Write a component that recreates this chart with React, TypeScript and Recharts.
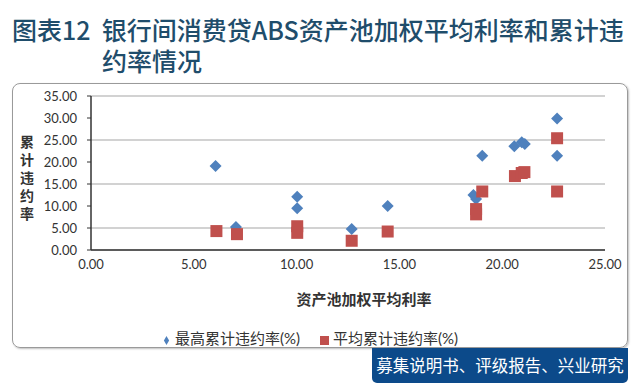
import { ScatterChart, Scatter, XAxis, YAxis, CartesianGrid, Legend } from 'recharts'

const maxX = [6.06, 7.05, 10.03, 10.03, 12.68, 14.43, 18.6, 18.73, 19.03, 20.59, 20.95, 21.1, 22.67, 22.67]
const maxY = [19.1, 5.2, 12.1, 9.5, 4.8, 10.0, 12.5, 11.6, 21.4, 23.6, 24.5, 24.1, 29.9, 21.4]
const avgX = [6.1, 7.1, 10.03, 10.03, 12.68, 14.43, 18.73, 18.73, 19.03, 20.62, 20.95, 21.08, 22.67, 22.67]
const avgY = [4.3, 3.6, 5.4, 3.9, 2.1, 4.2, 9.3, 8.1, 13.3, 16.8, 17.5, 17.7, 25.4, 13.3]

const seriesNames = ['最高累计违约率(%)', '平均累计违约率(%)']
const xTicks = [0, 5, 10, 15, 20, 25]
const yTicks = [0, 5, 10, 15, 20, 25, 30, 35]

const maxData = maxX.map((x, i) => ({ x, y: maxY[i] }))
const avgData = avgX.map((x, i) => ({ x, y: avgY[i] }))

const FONT = "Lato, 'Noto Sans CJK SC', sans-serif"

const Diamond = (props: any) => {
  const { cx, cy } = props
  const r = 6
  return <polygon points={`${cx},${cy - r} ${cx + r},${cy} ${cx},${cy + r} ${cx - r},${cy}`} fill="#4F81BD" />
}

const Square = (props: any) => {
  const { cx, cy } = props
  return <rect x={cx - 6} y={cy - 6} width={12} height={12} fill="#C0504D" />
}

const YTitle = () => {
  const chars = '累计违约率'.split('')
  return (
    <text x={27} y={142} textAnchor="middle" fontSize={14} fill="#333" fontFamily="'Noto Sans CJK SC'" fontWeight={700}>
      {chars.map((c, i) => (
        <tspan key={i} x={27} dy={i === 0 ? 5 : 18}>{c}</tspan>
      ))}
    </text>
  )
}

export default function App() {
  return (
    <div style={{ position: 'absolute', left: 0, top: 0, width: 640, height: 392, background: '#fff', fontFamily: FONT, overflow: 'hidden' }}>
      <div style={{ position: 'absolute', left: 12, top: 14, color: '#1f4d6b', fontSize: 25, lineHeight: '31px', fontFamily: "'Noto Sans CJK SC'", fontWeight: 500, whiteSpace: 'nowrap' }}>
        <div>图表12&nbsp;&nbsp;银行间消费贷ABS资产池加权平均利率和累计违</div>
        <div style={{ paddingLeft: 90 }}>约率情况</div>
      </div>
      <div style={{ position: 'absolute', left: 12, top: 83, width: 614, height: 263, border: '1px solid #9a9a9a', borderRadius: 8, boxShadow: '1px 1px 2px rgba(0,0,0,0.25)' }} />
      <div style={{ position: 'absolute', left: 0, top: 0 }}>
        <ScatterChart width={640} height={392} margin={{ top: 96, right: 35, bottom: 112, left: 41 }}>
          <CartesianGrid vertical={false} stroke="#a6a6a6" strokeWidth={1.2} />
          <XAxis
            type="number"
            dataKey="x"
            domain={[0, 25]}
            ticks={xTicks}
            tickFormatter={(v: number) => v.toFixed(2)}
            height={30}
            axisLine={{ stroke: '#333', strokeWidth: 1.5 }}
            tickLine={false}
            tickSize={4}
            tickMargin={6}
            tick={{ fill: '#333', fontSize: 13, fontFamily: FONT }}
            label={{ value: '资产池加权平均利率', position: 'bottom', offset: 14, dx: 16, fill: '#333', fontSize: 15, fontWeight: 700, fontFamily: "'Noto Sans CJK SC'" }}
          />
          <YAxis
            type="number"
            dataKey="y"
            domain={[0, 35]}
            ticks={yTicks}
            tickFormatter={(v: number) => v.toFixed(2)}
            width={50}
            axisLine={{ stroke: '#333', strokeWidth: 1.5 }}
            tickLine={{ stroke: '#333' }}
            tickSize={4}
            tickMargin={10}
            tick={{ fill: '#333', fontSize: 13, fontFamily: FONT }}
            label={{ content: <YTitle /> }}
          />
          <Legend
            verticalAlign="middle"
            align="center"
            iconSize={9}
            itemSorter={(item: any) => seriesNames.indexOf(item.value)}
            wrapperStyle={{ top: 327, left: 0, width: 640, fontSize: 15, fontFamily: FONT }}
            formatter={(value: string) => <span style={{ color: '#333', marginRight: 10 }}>{value}</span>}
          />
          <Scatter name={seriesNames[0]} data={maxData} fill="#4F81BD" legendType="diamond" shape={Diamond} isAnimationActive={false} />
          <Scatter name={seriesNames[1]} data={avgData} fill="#C0504D" legendType="square" shape={Square} isAnimationActive={false} />
        </ScatterChart>
      </div>
      <div style={{ position: 'absolute', left: 372, top: 348, width: 256, height: 35, background: '#0c4a8a', borderRadius: '0 0 5px 5px', color: '#fff', fontSize: 16.5, lineHeight: '35px', textAlign: 'center', fontFamily: "'Noto Sans CJK SC'", whiteSpace: 'nowrap' }}>
        募集说明书、评级报告、兴业研究
      </div>
    </div>
  )
}
